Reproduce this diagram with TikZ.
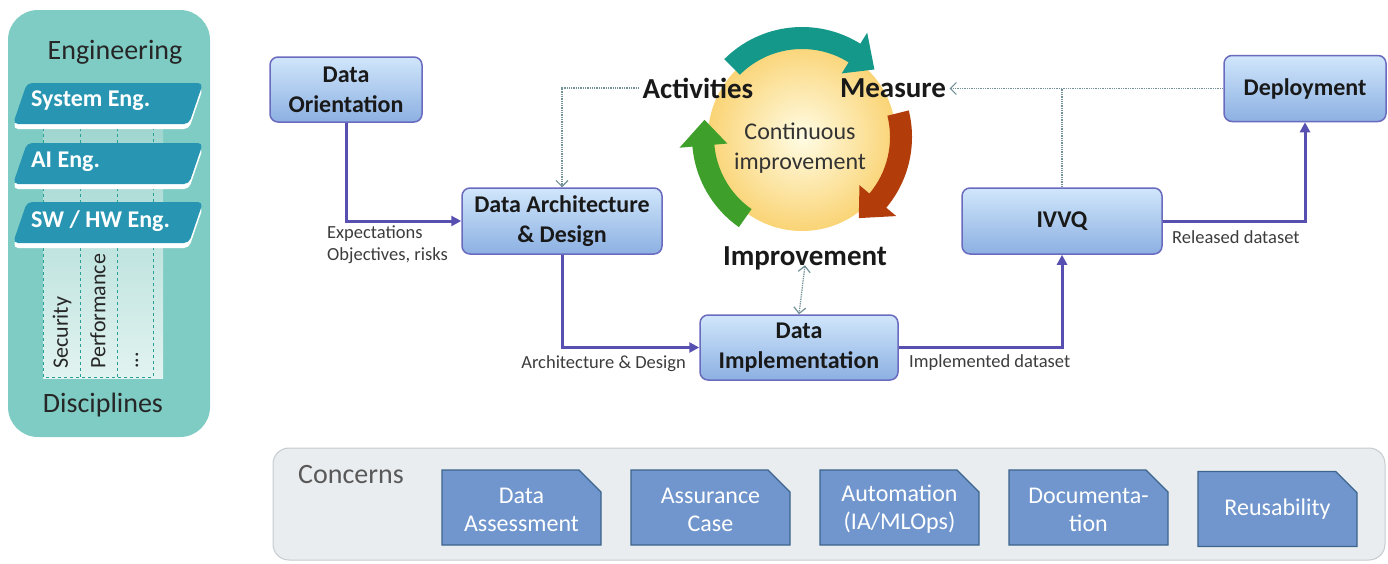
\documentclass[tikz,border=0pt]{standalone}
\usepackage{fontspec}
\setmainfont{Carlito}
\usetikzlibrary{calc,arrows.meta,shapes.misc}
\definecolor{panelc}{RGB}{127,204,196}
\definecolor{parac}{RGB}{40,150,178}
\definecolor{coltop}{RGB}{160,214,208}
\definecolor{colbot}{RGB}{226,243,240}
\definecolor{coldash}{RGB}{40,160,150}
\definecolor{boxtop}{RGB}{208,230,251}
\definecolor{boxbot}{RGB}{140,176,226}
\definecolor{boxborder}{RGB}{106,106,190}
\definecolor{flowc}{RGB}{88,80,176}
\definecolor{dotc}{RGB}{115,145,150}
\definecolor{arrteal}{RGB}{20,152,138}
\definecolor{arrbrown}{RGB}{178,60,10}
\definecolor{arrgreen}{RGB}{62,160,42}
\definecolor{circin}{RGB}{255,252,228}
\definecolor{circout}{RGB}{250,212,118}
\definecolor{concbg}{RGB}{233,237,240}
\definecolor{concborder}{RGB}{198,203,207}
\definecolor{cboxfill}{RGB}{112,150,205}
\definecolor{cboxborder}{RGB}{60,100,140}
\definecolor{lblc}{RGB}{60,60,60}
\tikzset{
  mainbox/.style={draw=boxborder, line width=1.5pt, rounded corners=8pt,
    top color=boxtop, bottom color=boxbot, align=center, inner sep=0pt,
    font=\fontsize{24}{30}\selectfont\bfseries, text=black!90},
  flow/.style={draw=flowc, line width=3pt, -{Triangle[length=10pt,width=10pt]}},
  dots/.style={draw=dotc, line width=1.3pt, densely dotted},
  barbtip/.tip={Straight Barb[length=6pt,width=12pt,line width=1.2pt]},
  barb/.style={-barbtip},
  lbl/.style={font=\fontsize{18.5}{22}\selectfont, text=lblc, inner sep=0pt},
  cyc/.style={font=\fontsize{29}{32}\selectfont\bfseries, text=black!90},
  cbox/.style={chamfered rectangle, chamfered rectangle corners=north east,
    chamfered rectangle xsep=11pt, chamfered rectangle ysep=11pt,
    draw=cboxborder, line width=1.2pt, fill=cboxfill, minimum width=159pt,
    minimum height=75pt, inner sep=0pt, text=white, align=center,
    font=\fontsize{24}{28}\selectfont},
  paratext/.style={text=white, font=\fontsize{24}{28}\selectfont\bfseries, inner sep=0pt, anchor=west},
  disc/.style={rotate=90, anchor=west, font=\fontsize{22}{24}\selectfont, text=black!85, inner sep=0pt}
}
\newcommand{\cyclearrow}[4]{%
  \fill[#1] ($(cc)+(#2:110)$) arc[start angle=#2, end angle=#3, radius=110]
    -- ($(cc)+(#3:123)$) -- ($(cc)+(#4:99)$) -- ($(cc)+(#3:75)$)
    -- ($(cc)+(#3:88)$) arc[start angle=#3, end angle=#2, radius=88] -- cycle;}
\begin{document}
\begin{tikzpicture}[x=1pt,y=-1pt]
\useasboundingbox (0,0) rectangle (1388,563);
% ---------- left panel ----------
\node[fill=panelc, rounded corners=30pt, minimum width=202pt, minimum height=427pt, inner sep=0pt] (panel) at (109,223.5) {};
\shade[top color=coltop, bottom color=colbot] (43,128) rectangle (163,378);
\draw[coldash, dashed, line width=0.8pt] (43,128) -- (43,377) -- (153,377) -- (153,128);
\draw[coldash, dashed, line width=0.8pt] (80,128) -- (80,377);
\draw[coldash, dashed, line width=0.8pt] (117,128) -- (117,377);
\node[font=\fontsize{28}{30}\selectfont, text=black!85] (eng) at (115,52) {Engineering};
\node[font=\fontsize{28}{30}\selectfont, text=black!85] (discl) at (103,405) {Disciplines};
\foreach \yt in {83,143,202}{
  \fill[white, rounded corners=5pt] (27,\yt+5) -- (203,\yt+5) -- (189,\yt+46) -- (13,\yt+46) -- cycle;
  \fill[parac, rounded corners=5pt] (27,\yt) -- (203,\yt) -- (189,\yt+41) -- (13,\yt+41) -- cycle;
}
\node[paratext] (syse) at (31,101) {System Eng.};
\node[paratext] (aie) at (31,162) {AI Eng.};
\node[paratext] (swe) at (31,221) {SW / HW Eng.};
\node[disc] (sec) at (62,369) {Security};
\node[disc] (perf) at (98,369) {Performance};
\node[disc] (etc) at (137,369) {...};
% ---------- cycle ----------
\coordinate (cc) at (802,137);
\shade[inner color=circin, outer color=circout] (cc) circle (94);
\cyclearrow{arrteal}{-135}{-58}{-43}
\cyclearrow{arrbrown}{-14}{40}{55}
\cyclearrow{arrgreen}{125}{175}{190}
\node[font=\fontsize{24}{30}\selectfont, text=black!80, align=center] (cont) at (800,148) {Continuous\\improvement};
\node[cyc] (act) at (698,88) {Activities};
\node[cyc] (meas) at (893,88) {Measure};
\node[cyc] (imp) at (805,258) {Improvement};
% ---------- main boxes ----------
\node[mainbox, minimum width=152pt, minimum height=65pt] (dor) at (346,89.5) {Data\\Orientation};
\node[mainbox, minimum width=200pt, minimum height=66pt] (arch) at (562,221) {Data Architecture\\\& Design};
\node[mainbox, minimum width=198pt, minimum height=65pt] (impl) at (799,347.5) {Data\\Implementation};
\node[mainbox, minimum width=200pt, minimum height=66pt] (ivvq) at (1062,221) {IVVQ};
\node[mainbox, minimum width=162pt, minimum height=66pt] (dep) at (1305,88.5) {Deployment};
% ---------- flows ----------
\draw[flow] (dor.south) |- (arch.west);
\draw[flow] (arch.south) |- (impl.west);
\draw[flow] (impl.east) -| (ivvq.south);
\draw[flow] (ivvq.east) -| (dep.south);
\node[lbl, anchor=west] (lexp) at (327,234) {Expectations};
\node[lbl, anchor=west] (lobj) at (327,256) {Objectives, risks};
\node[lbl, anchor=east] (larch) at (686,364) {Architecture \& Design};
\node[lbl, anchor=west] (limpl) at (909,363) {Implemented dataset};
\node[lbl, anchor=west] (lrel) at (1172,237) {Released dataset};
% ---------- dotted links ----------
\draw[dots, barb] (act.west) -| (arch.north);
\draw[dots, barb] (dep.west) -- (dep.west -| meas.east);
\draw[dots] (ivvq.north) -- (ivvq.north |- dep.west);
\draw[dots, barbtip-barbtip] ([yshift=8pt]imp.south) -- (impl.north);
% ---------- concerns ----------
\node[draw=concborder, fill=concbg, line width=1pt, rounded corners=16pt, minimum width=1112pt, minimum height=112pt, inner sep=0pt] (concerns) at (829,504) {};
\node[font=\fontsize{28}{30}\selectfont, text=black!65] (conct) at (351,475) {Concerns};
\node[cbox] (c1) at (521.5,507.5) {\strut Data\\Assessment};
\node[cbox] (c2) at (710.5,507.5) {\strut Assurance\\Case};
\node[cbox] (c3) at (899.5,507.5) {\strut Automation\\(IA/MLOps)};
\node[cbox] (c4) at (1088.5,507.5) {\strut Documenta-\\tion};
\node[cbox] (c5) at (1277.5,509) {Reusability};
\end{tikzpicture}
\end{document}
